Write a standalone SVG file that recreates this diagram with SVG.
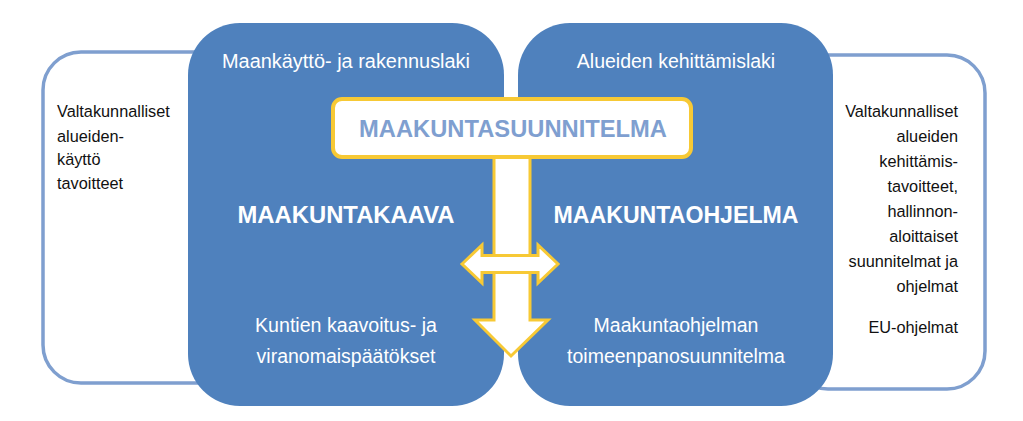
<svg xmlns="http://www.w3.org/2000/svg" width="1023" height="421" viewBox="0 0 1023 421">
  <style>
    .outline { fill: #ffffff; stroke: #7f9fcf; stroke-width: 3.5; }
    .blue { fill: #4f81bd; }
    .arrow { fill: #ffffff; stroke: #f7c935; stroke-width: 3; stroke-linejoin: miter; }
    .t { font-family: "Liberation Sans", Arial, sans-serif; }
    .side { font-size: 16.3px; fill: #111111; }
    .law { font-size: 19.5px; fill: #ffffff; text-anchor: middle; }
    .big { font-size: 24px; font-weight: bold; fill: #ffffff; text-anchor: middle; }
    .bottom { font-size: 19.5px; fill: #ffffff; text-anchor: middle; }
    .title { font-size: 23px; font-weight: bold; fill: #7f9fd0; text-anchor: middle; }
  </style>
  <rect width="1023" height="421" fill="#ffffff"/>

  <g id="left-goals">
    <rect class="outline" x="43" y="52" width="200" height="331" rx="38"/>
    <text class="t side" x="57" y="117">Valtakunnalliset</text>
    <text class="t side" x="57" y="142">alueiden-</text>
    <text class="t side" x="57" y="165">käyttö</text>
    <text class="t side" x="57" y="189">tavoitteet</text>
  </g>

  <g id="right-goals">
    <rect class="outline" x="790" y="55" width="195" height="334" rx="38"/>
    <g class="t side" text-anchor="end">
      <text x="958" y="117">Valtakunnalliset</text>
      <text x="958" y="142">alueiden</text>
      <text x="958" y="167">kehittämis-</text>
      <text x="958" y="192">tavoitteet,</text>
      <text x="958" y="217">hallinnon-</text>
      <text x="958" y="242">aloittaiset</text>
      <text x="958" y="267">suunnitelmat ja</text>
      <text x="958" y="292">ohjelmat</text>
      <text x="958" y="333">EU-ohjelmat</text>
    </g>
  </g>

  <g id="maakuntakaava">
    <rect class="blue" x="188" y="23" width="316" height="383" rx="52"/>
    <text class="t law" x="346" y="68" textLength="248" lengthAdjust="spacingAndGlyphs">Maankäyttö- ja rakennuslaki</text>
    <text class="t big" x="346" y="223" textLength="217" lengthAdjust="spacingAndGlyphs">MAAKUNTAKAAVA</text>
    <text class="t bottom" x="346" y="332" textLength="182" lengthAdjust="spacingAndGlyphs">Kuntien kaavoitus- ja</text>
    <text class="t bottom" x="346" y="363">viranomaispäätökset</text>
  </g>

  <g id="maakuntaohjelma">
    <rect class="blue" x="518" y="23" width="315" height="383" rx="52"/>
    <text class="t law" x="676" y="68">Alueiden kehittämislaki</text>
    <text class="t big" x="676" y="223" textLength="245" lengthAdjust="spacingAndGlyphs">MAAKUNTAOHJELMA</text>
    <text class="t bottom" x="676" y="332">Maakuntaohjelman</text>
    <text class="t bottom" x="676" y="363">toimeenpanosuunnitelma</text>
  </g>

  <g id="connectors">
    <polygon class="arrow" points="494,150 530,150 530,320 548,320 511,356 475,320 494,320"/>
    <polygon class="arrow" points="462,264 482,245 482,255.5 538,255.5 538,245 558,264 538,283 538,272.5 482,272.5 482,283"/>
  </g>

  <g id="maakuntasuunnitelma">
    <rect x="333" y="99" width="358" height="58" rx="9" fill="#ffffff" stroke="#f7c935" stroke-width="4"/>
    <text class="t title" x="513" y="137" textLength="308" lengthAdjust="spacingAndGlyphs">MAAKUNTASUUNNITELMA</text>
  </g>
</svg>
